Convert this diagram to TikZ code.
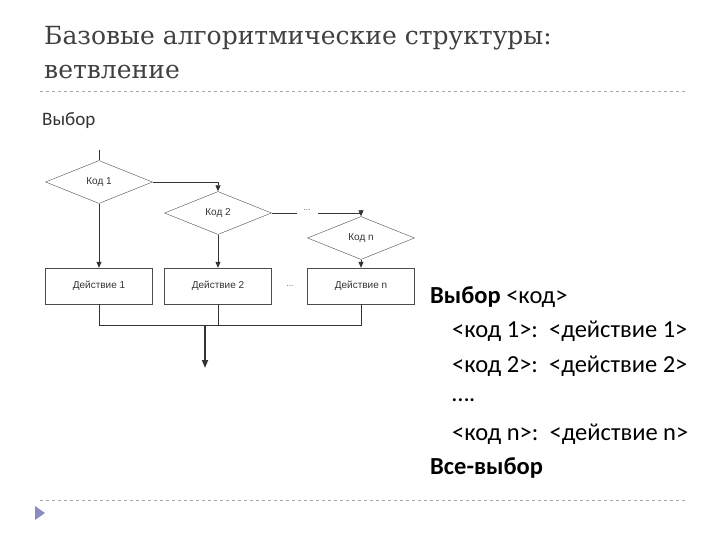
\documentclass[tikz,border=0pt]{standalone}
\usepackage{fontspec}
\setmainfont{Carlito}
\newfontfamily\hdfont{DejaVu Serif}
\newfontfamily\arfont{Liberation Sans}
\usetikzlibrary{shapes.geometric,arrows.meta}
\begin{document}
\begin{tikzpicture}[x=1pt,y=-1pt,
  dia/.style={diamond,draw=black!70,aspect=2.6,minimum width=107pt,minimum height=43pt,inner sep=0pt,font=\arfont\fontsize{10}{11}\selectfont,text=black!80},
  box/.style={rectangle,draw=black!70,minimum width=107pt,minimum height=36pt,font=\arfont\fontsize{10}{11}\selectfont,text=black!80},
  ln/.style={draw=black!80,line width=0.8pt},
  ar/.style={ln,-{Triangle[length=6pt,width=5pt]}},
  tx/.style={anchor=west,font=\fontsize{24.5}{28}\selectfont,inner sep=0pt}]
\useasboundingbox (0,0) rectangle (720,540);
\node[anchor=west,inner sep=0pt,text=black!75,font=\hdfont\fontsize{25}{28}\selectfont] (h1) at (44,38) {Базовые алгоритмические структуры:};
\node[anchor=west,inner sep=0pt,text=black!75,font=\hdfont\fontsize{25}{28}\selectfont] (h2) at (44,72) {ветвление};
\draw[black!35,dashed] (40,91) -- (685,91);
\node[anchor=west,inner sep=0pt,font=\fontsize{19}{21}\selectfont,text=black!80] (vyb) at (42,121) {Выбор};
\draw[black!35,dashed] (40,500) -- (685,500);
\fill[blue!30!gray!70] (35,506) -- (45,513) -- (35,520) -- cycle;

\coordinate (top) at (99,150);
\node[dia] (d1) at (99,182) {Код 1};
\node[dia] (d2) at (218,213) {Код 2};
\node[dia] (dn) at (361,238) {Код n};
\node[box] (b1) at (99,286) {Действие 1};
\node[box] (b2) at (218,286) {Действие 2};
\node[box] (bn) at (361,286) {Действие n};
\node[font=\arfont\fontsize{8}{9}\selectfont,text=black!70] (dots) at (290,286) {...};
\node[font=\arfont\fontsize{8}{9}\selectfont,text=black!70] (dots2) at (307,210) {...};
\coordinate (m1) at (297,213);
\coordinate (m2) at (318,213);
\draw[ln] (top) -- (d1.north);
\draw[ar] (d1.east) -| (d2.north);
\draw[ln] (d2.east) -- (m1);
\draw[ar] (m2) -| (dn.north);
\draw[ar] (d1.south) -- (b1.north);
\draw[ar] (d2.south) -- (b2.north);
\draw[ar] (dn.south) -- (bn.north);
\coordinate (j1) at (99,325);
\coordinate (jn) at (361,325);
\coordinate (jc) at (205,325);
\coordinate (end) at (205,368);
\draw[ln] (b1.south) -- (j1) -- (jn) -- (bn.south);
\draw[ln] (b2.south) -- (218,325);
\draw[ln,line width=1.6pt,-{Triangle[length=8pt,width=6pt]}] (jc) -- (end);

\node[tx] (t1) at (430,297) {\textbf{Выбор} <код>};
\node[tx] (t2) at (452,331) {<код 1>:\ \ <действие 1>};
\node[tx] (t3) at (452,366) {<код 2>:\ \ <действие 2>};
\node[tx] (t4) at (452,400) {….};
\node[tx] (t5) at (452,434) {<код n>:\ \ <действие n>};
\node[tx] (t6) at (430,468) {\textbf{Все-выбор}};
\end{tikzpicture}
\end{document}
